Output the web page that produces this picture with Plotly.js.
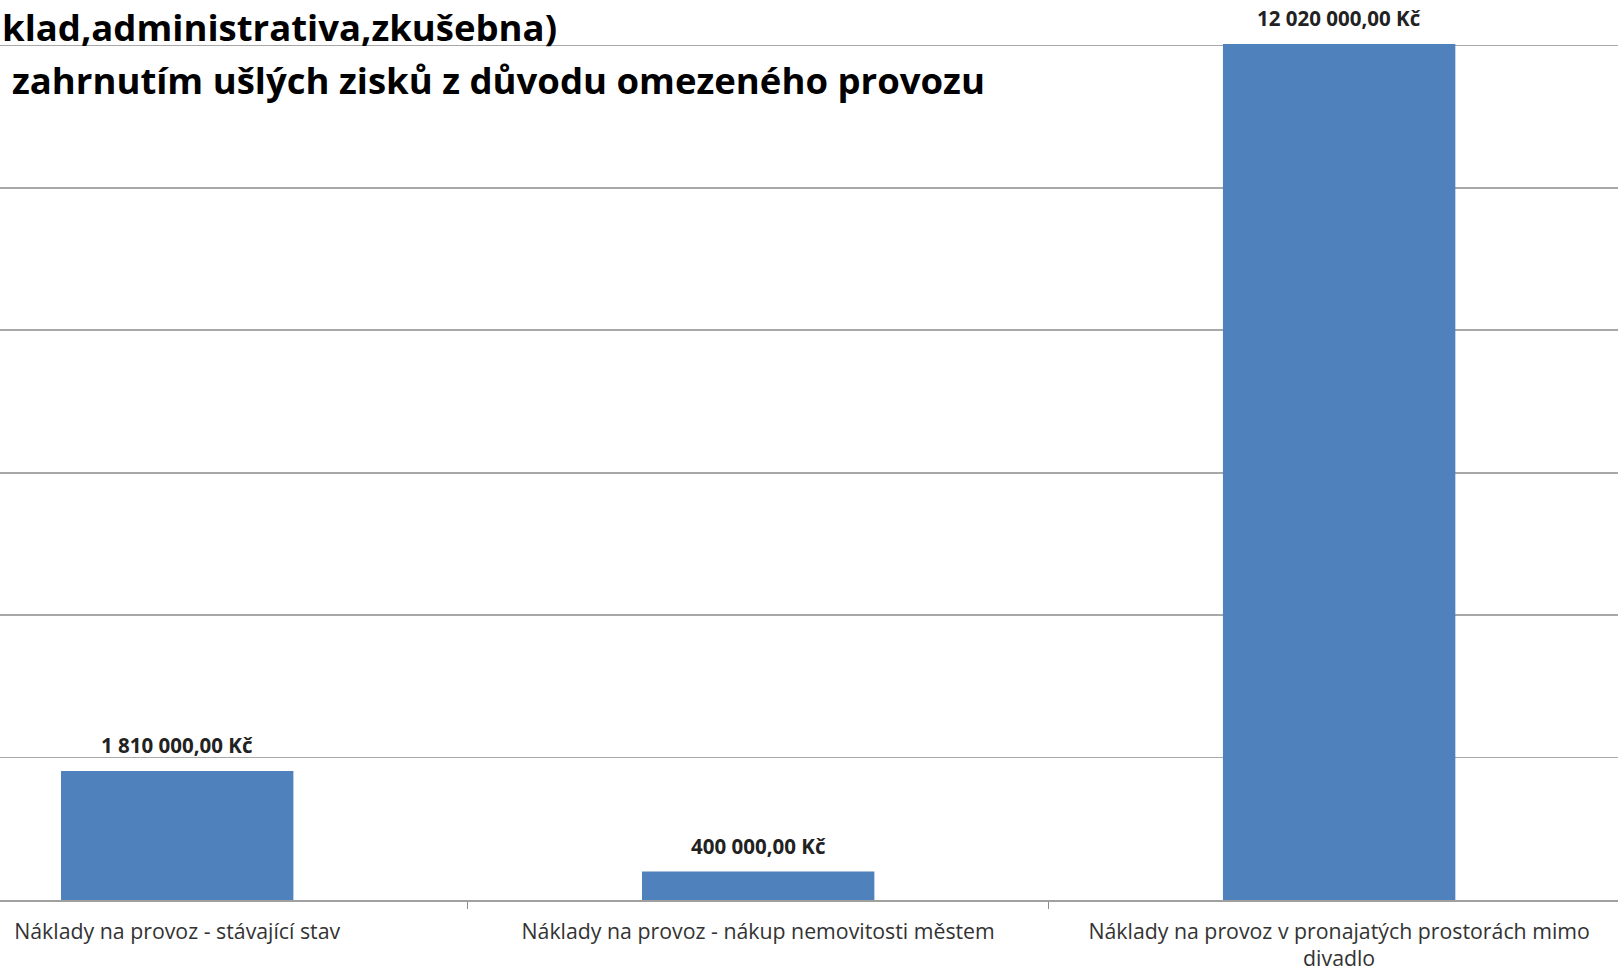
<!DOCTYPE html>
<html>
<head>
<meta charset="utf-8">
<script src="https://cdn.plot.ly/plotly-3.0.1.min.js"></script>
<style>html,body{margin:0;padding:0;background:#fff;}#chart{width:1618px;height:972px;}</style>
</head>
<body>
<div id="chart"></div>
<script>
const categories = [
  "Náklady na provoz - stávající stav",
  "Náklady na provoz - nákup nemovitosti městem",
  "Náklady na provoz v pronajatých prostorách mimo<br>divadlo"
];
const values = [1810000, 400000, 12020000];
const valueLabels = ["1 810 000,00 Kč", "400 000,00 Kč", "12 020 000,00 Kč"];
const titleLines = [
  "klad,administrativa,zkušebna)",
  "zahrnutím ušlých zisků z důvodu omezeného provozu"
];

const FONT = "'Open Sans', Lato, sans-serif";

const trace = {
  type: "bar",
  x: categories,
  y: values,
  marker: {color: "#4F81BD", line: {width: 0}},
  hoverinfo: "none"
};

const annotations = categories.map((c, i) => ({
  x: c, y: values[i], xref: "x", yref: "y",
  text: "<b>" + valueLabels[i] + "</b>",
  showarrow: false, yanchor: "bottom", yshift: 10,
  font: {family: FONT, size: 20.5, color: "#222"}
}));

annotations.push({
  xref: "paper", yref: "paper", x: 0, y: (900-27)/900,
  xanchor: "left", yanchor: "middle", showarrow: false,
  text: "<b>" + titleLines[0] + "</b>",
  font: {family: FONT, size: 36.5, color: "#000"}
});
annotations.push({
  xref: "paper", yref: "paper", x: 10/1618, y: (900-80)/900,
  xanchor: "left", yanchor: "middle", showarrow: false,
  text: "<b>" + titleLines[1] + "</b>",
  font: {family: FONT, size: 36.5, color: "#000"}
});

const layout = {
  width: 1618, height: 972,
  margin: {l: 0, r: 0, t: 0, b: 72, pad: 0},
  paper_bgcolor: "#fff", plot_bgcolor: "#fff",
  showlegend: false,
  bargap: 0.6,
  xaxis: {
    type: "category",
    range: [-0.305, 2.48],
    tickson: "boundaries",
    ticks: "outside", ticklen: 7, tickwidth: 1, tickcolor: "#8c8c8c",
    showline: true, linecolor: "#a0a0a0", linewidth: 2,
    showgrid: false,
    tickfont: {family: FONT, size: 21.3, color: "#333"},
    ticklabelstandoff: 11,
    fixedrange: true
  },
  yaxis: {
    range: [0, 12638000],
    dtick: 2000000, tick0: 0,
    showticklabels: false,
    showgrid: true, gridcolor: "#a8a8a8", gridwidth: 1.6,
    zeroline: false, showline: false, ticks: "",
    fixedrange: true
  },
  annotations: annotations
};

Plotly.newPlot("chart", [trace], layout, {displayModeBar: false, staticPlot: true});
</script>
</body>
</html>
